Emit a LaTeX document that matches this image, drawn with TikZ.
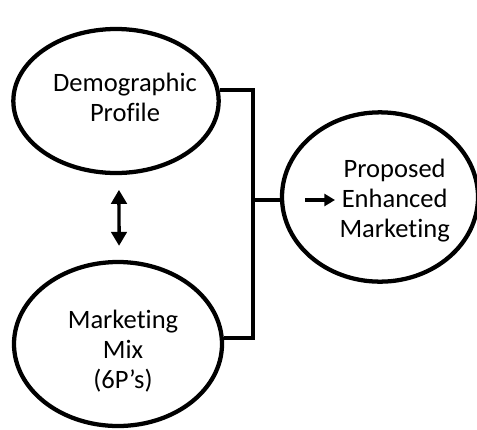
\documentclass[tikz,border=0pt]{standalone}
\usepackage{fontspec}
\setmainfont{Carlito}[Ligatures=NoCommon]
\usetikzlibrary{arrows.meta,positioning,shapes.geometric}

\begin{document}
\begin{tikzpicture}[x=0.75pt,y=0.75pt,>={Triangle[length=10.5pt,width=11.5pt]},
  blob/.style={ellipse,draw=black,line width=3.2pt,fill=white,inner sep=0pt},
  words/.style={align=center,inner sep=0pt,font=\fontsize{19.9}{22.5}\selectfont},
  link/.style={draw=black,line width=3pt},
  push/.style={-{Triangle[length=8pt,width=9pt]},draw=black,line width=2.6pt}]
  \useasboundingbox (0,0) rectangle (477,-429);
  \node[blob,minimum width=154pt,minimum height=108pt,
    label={[words,name=demotext,xshift=6.75pt,yshift=3pt]center:Demographic\\Profile}] (demo) at (116,-101) {};
  \node[blob,minimum width=156pt,minimum height=123pt,
    label={[words,name=mixtext,xshift=3.75pt,yshift=-5pt]center:Marketing\\Mix\\(6P’s)}] (mix) at (118,-344) {};
  \node[blob,minimum width=147pt,minimum height=127pt,
    label={[words,name=proptext,xshift=11pt,yshift=-3pt]center:Proposed\\Enhanced\\Marketing}] (prop) at (380,-197) {};
  % bracket joining the two inputs
  \coordinate (bus) at (253,-200);
  \draw[link] (demo.6) -| (bus) |- (mix.3);
  \draw[link] (bus) -- (bus -| prop.west);
  \coordinate (pa) at (305,-200);  \coordinate (pb) at (335,-200);
  \draw[push] (pa) -- (pb);
  \draw[<->,draw=black,line width=2.6pt,shorten <=11pt,shorten >=10.5pt] ([xshift=2.2pt]demo.south) -- ([xshift=0.8pt]mix.north);
\end{tikzpicture}
\end{document}
